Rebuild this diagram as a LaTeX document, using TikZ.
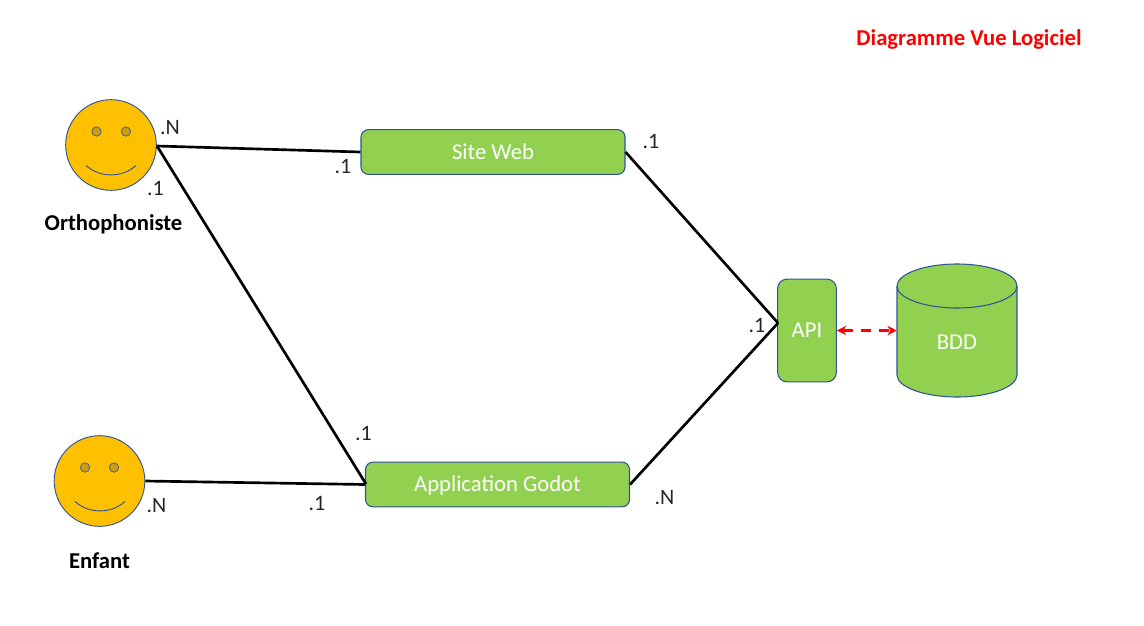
\documentclass[tikz,border=0pt]{standalone}
\usepackage{fontspec}
\setmainfont{Carlito}
\usetikzlibrary{arrows.meta}
\definecolor{boxfill}{HTML}{92D050}
\definecolor{boxline}{HTML}{2F5597}
\definecolor{facefill}{HTML}{FFC000}
\definecolor{eyefill}{HTML}{CD9B0E}
\newcommand{\boxtext}[1]{\raisebox{-5.3pt}[0pt][0pt]{#1}}
\tikzset{
  x=0.75pt,y=-0.75pt,
  box/.style={draw=boxline,line width=0.8pt,fill=boxfill,rounded corners=5.5pt,text=white,font=\fontsize{17}{20}\selectfont,inner sep=0pt,anchor=center},
  face/.style={circle,draw=boxline,line width=0.7pt,fill=facefill,minimum size=68pt,inner sep=0pt},
  eye/.style={circle,draw=boxline!70!gray,line width=0.6pt,fill=eyefill,minimum size=7pt,inner sep=0pt},
  smile/.style={draw=boxline,line width=0.7pt},
  link/.style={draw=black,line width=2pt},
  card/.style={font=\fontsize{16.5}{19}\selectfont,text=black!85,inner sep=0pt},
  actor/.style={font=\bfseries\fontsize{17}{20}\selectfont,text=black,inner sep=0pt},
  cyl/.style={draw=boxline,line width=0.8pt,fill=boxfill},
}
\begin{document}
\begin{tikzpicture}
\useasboundingbox (0,0) rectangle (1144,625);
\node[anchor=center,font=\bfseries\fontsize{17}{20}\selectfont,text=red,inner sep=0pt] (title) at (969,39.5) {Diagramme Vue Logiciel};
% faces
\node[face] (ortho) at (111,145) {};
\node[eye] (ortholeft) at (96.5,131.5) {};
\node[eye] (orthoright) at (126,131.5) {};
\draw[smile] (86,165.5) .. controls (100,178) and (122,178) .. (136,165.5);
\node[face] (enfant) at (99.5,481) {};
\node[eye] (enfantleft) at (85,467.5) {};
\node[eye] (enfantright) at (114,467.5) {};
\draw[smile] (75,501.5) .. controls (89,514) and (111,514) .. (125,501.5);
\node[actor] (orthoname) at (113.5,224) {Orthophoniste};
\node[actor] (enfantname) at (99.5,561) {Enfant};
% boxes
\node[box,minimum width=198pt,minimum height=33.5pt] (web) at (493,152) {\boxtext{Site Web}};
\node[box,minimum width=198pt,minimum height=33.5pt] (godot) at (497.5,484.5) {\boxtext{Application Godot}};
\node[box,minimum width=44pt,minimum height=77pt,rounded corners=7pt] (api) at (807,330.5) {\boxtext{API}};
% database cylinder
\path[cyl] (897,286) -- (897,375) .. controls (897,387) and (924,397) .. (957,397) .. controls (990,397) and (1017,387) .. (1017,375) -- (1017,286) .. controls (1017,274) and (990,264) .. (957,264) .. controls (924,264) and (897,274) .. (897,286) -- cycle;
\draw[cyl,fill=none] (897,286) .. controls (897,298) and (924,308) .. (957,308) .. controls (990,308) and (1017,298) .. (1017,286);
\node[inner sep=0pt,minimum width=90pt,text=white,font=\fontsize{17}{20}\selectfont] (bdd) at (957,342.5) {BDD};
% connectors
\coordinate (apiin) at (778,323);
\coordinate (orthoout) at (157,146);
\coordinate (godotin) at (366,484);
\draw[link] (orthoout) -- (web.west);
\draw[link] (orthoout) -- (godotin);
\draw[link] (enfant.east) -- (godot.west);
\draw[link] (web.east) -- (apiin);
\draw[link] (godot.east) -- (apiin);
\draw[draw=red,line width=1.9pt,dash pattern=on 7.5pt off 6pt,{Stealth[length=7pt,width=7pt]}-{Stealth[length=7pt,width=7pt]}] (api.east) -- (bdd.west|-api.east);
% cardinalities
\node[card] (c1) at (170,127.5) {.N};
\node[card] (c2) at (155.5,188.5) {.1};
\node[card] (c3) at (343,166.5) {.1};
\node[card] (c4) at (651,141.5) {.1};
\node[card] (c5) at (363.5,433.5) {.1};
\node[card] (c6) at (156.5,505.5) {.N};
\node[card] (c7) at (317,503.5) {.1};
\node[card] (c8) at (664.5,497.5) {.N};
\node[card] (c9) at (757,325.5) {.1};
\end{tikzpicture}
\end{document}
